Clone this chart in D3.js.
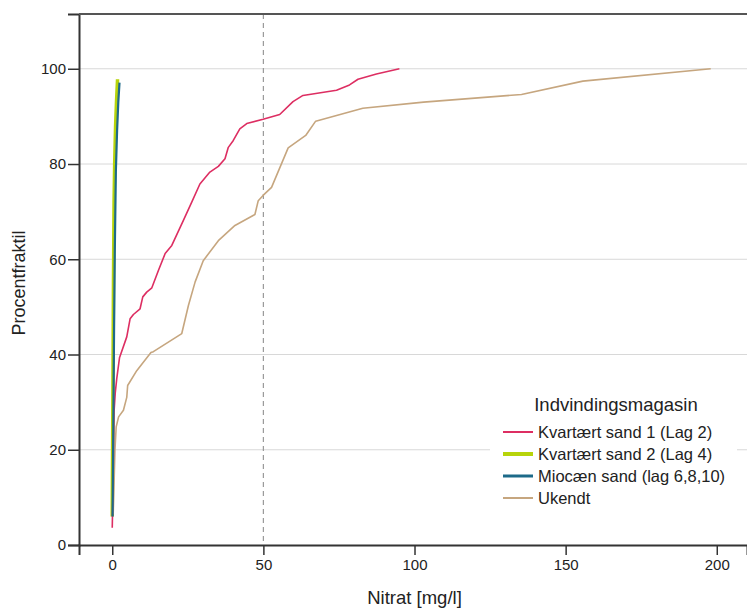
<!DOCTYPE html>
<html>
<head>
<meta charset="utf-8">
<script src="https://cdn.jsdelivr.net/npm/d3@7"></script>
<style>
  body { margin: 0; background: #fff; }
  text { font-family: "Liberation Sans", Arial, sans-serif; fill: #222; }
</style>
</head>
<body>
<div id="chart"></div>
<script>
// størrelser
const width = 747, height = 608;
const margin = {left: 79, right: 0, top: 14, bottom: 63};

// data: [nitrat, procentfraktil]
const seriesNames = ["Kvartært sand 1 (Lag 2)", "Kvartært sand 2 (Lag 4)", "Miocæn sand (lag 6,8,10)", "Ukendt"];
const seriesColors = ["#dd2e62", "#b7d40a", "#1d6a89", "#c6a67f"];
const seriesWidths = [1.6, 3.5, 2.2, 1.6];

const kvartaer1 = [
  [0, 3.6], [0.2, 10], [0.4, 20], [0.6, 28], [1.0, 32], [1.5, 35], [2.4, 39.3],
  [4.8, 43.7], [5.9, 47.5], [7.0, 48.4], [9.2, 49.6], [10.1, 52.1], [11.4, 53.1],
  [13.1, 54], [15.3, 57.7], [17.5, 61.2], [19.7, 62.9], [23.5, 68.1], [26.3, 72],
  [29, 75.8], [32.3, 78.3], [35.1, 79.5], [37.3, 81.1], [38.4, 83.5], [40, 84.9],
  [42.2, 87.4], [44.5, 88.5], [49.9, 89.4], [55.4, 90.4], [59.8, 93.1], [63.1, 94.4],
  [74.2, 95.5], [78.5, 96.6], [81.3, 97.8], [87.4, 98.9], [95, 100]
];
const kvartaer2 = [
  [0, 6], [0.2, 30], [0.4, 55], [0.6, 72], [0.8, 80], [1.1, 88], [1.4, 93], [1.75, 97.8]
];
const miocaen = [
  [0.1, 6], [0.35, 25], [0.6, 45], [0.85, 62], [1.2, 78.6], [1.6, 87], [2.0, 93], [2.4, 97.1]
];
const ukendt = [
  [0.3, 6.5], [0.6, 13], [0.9, 20], [1.3, 24.8], [2.1, 26.9], [3.7, 28.3], [4.8, 31],
  [5.1, 33.5], [8.1, 36.6], [12.8, 40.4], [13.6, 40.6],
  [23, 44.4], [25.2, 50.3], [27.4, 55.2], [30.1, 59.7], [35.1, 63.9], [40.6, 67.1],
  [47.2, 69.4], [48.3, 72.3], [49.9, 73.4], [52.7, 75.1], [58.2, 83.4], [64, 86],
  [67.3, 89], [82.9, 91.7], [103, 93], [135.4, 94.6], [155.7, 97.4], [198, 100]
];
const allSeries = [kvartaer1, kvartaer2, miocaen, ukendt];

const xTicks = [0, 50, 100, 150, 200];
const yTicks = [0, 20, 40, 60, 80, 100];
const refLine = 50;

const svg = d3.select("#chart").append("svg").attr("width", width).attr("height", height);

// skalaer
const x = d3.scaleLinear().domain([-11, 210]).range([margin.left, width - margin.right]);
const y = d3.scaleLinear().domain([0, 111.5]).range([height - margin.bottom, margin.top]);

// gitterlinjer
svg.append("g").selectAll("line").data(yTicks.filter(d => d > 0)).join("line")
  .attr("x1", x.range()[0]).attr("x2", x.range()[1])
  .attr("y1", d => y(d)).attr("y2", d => y(d))
  .attr("stroke", "#d8d8d8").attr("stroke-width", 1);

// 50 mg/l referencelinje
svg.append("line")
  .attr("x1", x(refLine)).attr("x2", x(refLine))
  .attr("y1", y.range()[1]).attr("y2", y.range()[0])
  .attr("stroke", "#9a9a9a").attr("stroke-width", 1.2)
  .attr("stroke-dasharray", "5,4");

// kurver (den tykke grønne tegnes først)
const line = d3.line().x(d => x(d[0])).y(d => y(d[1]));
const drawOrder = [1, 3, 0, 2];
svg.append("g").selectAll("path").data(drawOrder).join("path")
  .attr("d", i => line(allSeries[i]))
  .attr("fill", "none")
  .attr("stroke", i => seriesColors[i])
  .attr("stroke-width", i => seriesWidths[i])
  .attr("stroke-linejoin", "round");

// akser
const xAxis = d3.axisBottom(x).tickValues(xTicks).tickSize(10).tickPadding(4);
const yAxis = d3.axisLeft(y).tickValues(yTicks).tickSize(11).tickPadding(2);

const xAxisG = svg.append("g").attr("transform", `translate(0,${y(0)})`).call(xAxis);
const yAxisG = svg.append("g").attr("transform", `translate(${x.range()[0]},0)`).call(yAxis);

[xAxisG, yAxisG].forEach(g => {
  g.select(".domain").attr("stroke", "#333").attr("stroke-width", 2);
  g.selectAll(".tick line").attr("stroke", "#333").attr("stroke-width", 1.5);
  g.selectAll(".tick text").attr("font-size", 15).attr("fill", "#222")
    .attr("font-family", "Liberation Sans, Arial, sans-serif");
});

// øverste ramme
svg.append("line")
  .attr("x1", x.range()[0]).attr("x2", x.range()[1])
  .attr("y1", y.range()[1]).attr("y2", y.range()[1])
  .attr("stroke", "#555").attr("stroke-width", 2);

// aksetitler
svg.append("text")
  .attr("x", x(100)).attr("y", 604)
  .attr("text-anchor", "middle").attr("font-size", 18.5)
  .text("Nitrat [mg/l]");
svg.append("text")
  .attr("transform", `translate(25,283) rotate(-90)`)
  .attr("text-anchor", "middle").attr("font-size", 18)
  .text("Procentfraktil");

// legende
const legend = svg.append("g");
legend.append("rect")
  .attr("x", 490).attr("y", 385).attr("width", 247).attr("height", 130)
  .attr("fill", "#fff");
legend.append("text")
  .attr("x", 616).attr("y", 411)
  .attr("text-anchor", "middle").attr("font-size", 18.5)
  .text("Indvindingsmagasin");
const item = legend.selectAll("g.item").data(seriesNames).join("g")
  .attr("class", "item")
  .attr("transform", (d, i) => `translate(503,${432 + i * 22})`);
item.append("line")
  .attr("x1", 0).attr("x2", 30)
  .attr("stroke", (d, i) => seriesColors[i])
  .attr("stroke-width", (d, i) => i === 1 ? 4 : (i === 2 ? 3 : 2));
item.append("text")
  .attr("x", 35).attr("y", 6)
  .attr("font-size", 16.5)
  .text(d => d);
</script>
</body>
</html>
